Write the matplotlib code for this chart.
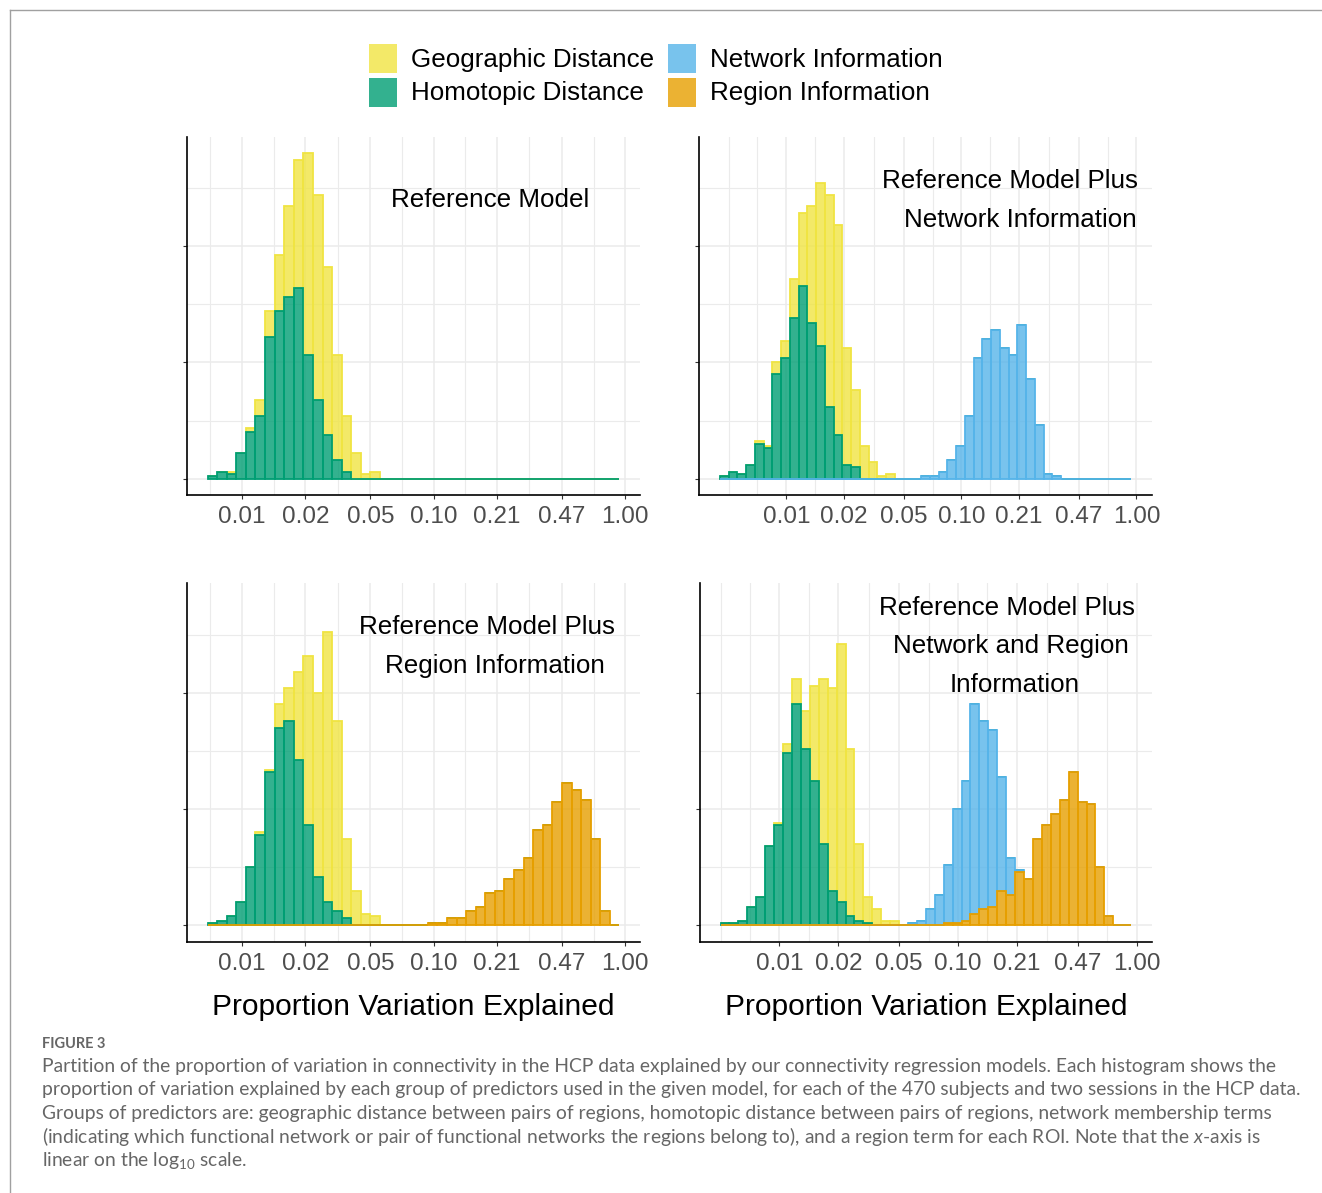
import numpy as np
import matplotlib
matplotlib.use("Agg")
import matplotlib.pyplot as plt
from matplotlib.colors import to_rgba
from matplotlib.patches import Rectangle
from matplotlib.lines import Line2D

plt.rcParams['font.family'] = ['Liberation Sans', 'DejaVu Sans']
plt.rcParams['mathtext.fontset'] = 'custom'
plt.rcParams['mathtext.rm'] = 'Lato'
plt.rcParams['mathtext.it'] = 'Lato:italic'

W, H = 1322, 1193

groups = ["Geographic Distance", "Homotopic Distance", "Network Information", "Region Information"]
fills = ["#F0E442", "#009E73", "#56B4E9", "#E69F00"]

binwidth = 0.05                       # on the log10 scale
tick_pos = [-2, -1.67, -1.33, -1, -0.67, -0.33, 0]
tick_lab = ["%.2f" % 10 ** t for t in tick_pos]

# histogram counts (stacked); each list starts at the given bin index
# panel 1: reference model
ref_start, ref_nbins = -2.18, 43
ref_geo = [0, 0, 1, 0, 2, 7, 11, 24, 39, 55, 87, 88, 72, 45, 24, 11, 2, 3]
ref_hom = [1, 3, 2, 11, 20, 27, 61, 72, 78, 82, 53, 34, 19, 8, 3]

# panel 2: + network information
net_start, net_nbins = -2.38, 47
net_geo = [0, 0, 0, 0, 1, 1, 5, 7, 17, 31, 50, 70, 91, 90, 50, 33, 14, 7, 1, 2]
net_hom = [1, 3, 2, 6, 15, 13, 45, 52, 69, 83, 67, 57, 31, 19, 6, 5]
net_net = [1, 1, 3, 8, 14, 27, 52, 60, 64, 56, 53, 66, 43, 23, 2, 1]
net_net_first = 23

# panel 3: + region information
reg_start, reg_nbins = -2.18, 43
reg_geo = [0, 0, 0, 0, 0, 1, 1, 10, 14, 38, 73, 79, 116, 82, 34, 15, 5, 4]
reg_hom = [1, 2, 4, 10, 25, 39, 66, 85, 88, 71, 43, 21, 10, 6, 3]
reg_reg = [1, 1, 3, 3, 6, 8, 14, 15, 20, 24, 29, 41, 43, 53, 61, 58, 54, 37, 6]
reg_reg_first = 23

# panel 4: + network and region information
all_start, all_nbins = -2.33, 46
all_geo = [0, 0, 0, 0, 0, 0, 1, 4, 11, 16, 41, 71, 87, 111, 72, 33, 11, 7, 2, 2]
all_hom = [1, 1, 2, 8, 12, 34, 43, 74, 95, 76, 62, 35, 15, 10, 4, 2, 1]
all_net = [1, 2, 7, 13, 25, 49, 60, 90, 81, 76, 49, 16, 1]
all_net_first = 21
all_reg = [1, 1, 2, 5, 7, 8, 15, 13, 23, 20, 37, 43, 48, 54, 66, 53, 52, 25, 4]
all_reg_first = 25


def full(vals, first, n):
    out = np.zeros(n)
    out[first:first + len(vals)] = vals
    return out


panels = [
    dict(rect=(187, 136.7, 640, 495), start=ref_start, n=ref_nbins,
         series={0: full(ref_geo, 0, ref_nbins), 1: full(ref_hom, 0, ref_nbins)},
         title=[("Reference Model", 490.5, 206.7)], xlabel=False),
    dict(rect=(699.3, 136.7, 1151.7, 495), start=net_start, n=net_nbins,
         series={0: full(net_geo, 0, net_nbins), 1: full(net_hom, 0, net_nbins),
                 2: full(net_net, net_net_first, net_nbins)},
         title=[("Reference Model Plus", 1010, 188.3), ("Network Information", 1020.7, 226.7)],
         xlabel=False),
    dict(rect=(187, 583.4, 640, 941.7), start=reg_start, n=reg_nbins,
         series={0: full(reg_geo, 0, reg_nbins), 1: full(reg_hom, 0, reg_nbins),
                 3: full(reg_reg, reg_reg_first, reg_nbins)},
         title=[("Reference Model Plus", 486.7, 634), ("Region Information", 494.5, 672.7)],
         xlabel=True),
    dict(rect=(700, 583.4, 1151.7, 941.7), start=all_start, n=all_nbins,
         series={0: full(all_geo, 0, all_nbins), 1: full(all_hom, 0, all_nbins),
                 2: full(all_net, all_net_first, all_nbins), 3: full(all_reg, all_reg_first, all_nbins)},
         title=[("Reference Model Plus", 1007.3, 615), ("Network and Region", 1010.8, 653.3),
                ("Information", 1014.3, 691.7)],
         xlabel=True),
]

fig = plt.figure(figsize=(W / 100, H / 100), dpi=100)

# shared y scale (ggplot-like 5% expansion)
ymax = max((sum(p['series'].values())).max() for p in panels)
ylim = (-0.05 * ymax, 1.05 * ymax)

for p in panels:
    x0, y0, x1, y1 = p['rect']
    ax = fig.add_axes([x0 / W, 1 - y1 / H, (x1 - x0) / W, (y1 - y0) / H])
    left = p['start'] + binwidth * np.arange(p['n'])
    lo, hi = left[0], left[-1] + binwidth
    ex = 0.05 * (hi - lo)
    ax.set_xlim(lo - ex, hi + ex)
    ax.set_ylim(*ylim)

    # stacking: region at the bottom, geographic on top
    bottoms = {}
    b = np.zeros(p['n'])
    for g in [3, 2, 1, 0]:
        if g in p['series']:
            bottoms[g] = b.copy()
            b = b + p['series'][g]
    for g in [0, 1, 2, 3]:
        if g in p['series']:
            ax.bar(left, p['series'][g], width=binwidth, bottom=bottoms[g], align='edge',
                   facecolor=to_rgba(fills[g], 0.8), edgecolor=fills[g], linewidth=1.3, zorder=2)

    # breaks
    ax.set_xticks(tick_pos)
    ax.set_xticklabels(tick_lab)
    ext = [tick_pos[0] - (tick_pos[1] - tick_pos[0])] + tick_pos
    minor = [ext[0]] + [(a + c) / 2 for a, c in zip(ext[:-1], ext[1:])]
    ax.set_xticks([m for m in minor if lo - ex < m < hi + ex], minor=True)
    ax.set_yticks([0, 50, 100])
    ax.set_yticks([25, 75, 125], minor=True)
    ax.tick_params(labelleft=False)
    ax.tick_params(which='major', length=3, width=0.8, color='#333333',
                   labelsize=17.5, labelcolor='#4D4D4D', pad=5)
    ax.tick_params(which='minor', length=0)
    ax.grid(which='major', color='#EBEBEB', linewidth=1.1)
    ax.grid(which='minor', color='#EBEBEB', linewidth=0.8)
    ax.set_axisbelow(True)
    for s in ['top', 'right']:
        ax.spines[s].set_visible(False)
    for s in ['left', 'bottom']:
        ax.spines[s].set_color('black')
        ax.spines[s].set_linewidth(1.2)

    for txt, cx, by in p['title']:
        fig.text(cx / W, 1 - by / H, txt, ha='center', va='baseline', fontsize=18.7)
    if p['xlabel']:
        fig.text((x0 + x1) / 2 / W, 1 - 1015 / H, "Proportion Variation Explained",
                 ha='center', va='baseline', fontsize=21.6)

# legend
leg = [(0, 369, 44, 411, 67), (1, 369, 78, 411, 100),
       (2, 668, 44, 710, 67), (3, 668, 78, 710, 100)]
for g, kx, ky, tx, ty in leg:
    fig.patches.append(Rectangle((kx / W, 1 - (ky + 29) / H), 28 / W, 29 / H,
                                 transform=fig.transFigure, facecolor=to_rgba(fills[g], 0.8),
                                 edgecolor='none'))
    fig.text(tx / W, 1 - ty / H, groups[g], ha='left', va='baseline', fontsize=18.7)

# caption
cap_lines = [
    "Partition of the proportion of variation in connectivity in the HCP data explained by our connectivity regression models. Each histogram shows the",
    "proportion of variation explained by each group of predictors used in the given model, for each of the 470 subjects and two sessions in the HCP data.",
    "Groups of predictors are: geographic distance between pairs of regions, homotopic distance between pairs of regions, network membership terms",
    "(indicating which functional network or pair of functional networks the regions belong to), and a region term for each ROI. Note that the $\\mathit{x}$-axis is",
    "linear on the log$_{10}$ scale.",
]
renderer = fig.canvas.get_renderer()
ft = fig.text(42 / W, 1 - 1048 / H, "FIGURE 3", fontsize=10, family='Lato', weight='bold',
              color='#666666', ha='left', va='baseline')
ft.set_fontsize(10 * 64 / ft.get_window_extent(renderer).width)

probe = fig.text(0, 0, cap_lines[1], fontsize=12, family='Lato', color='#5a5a5a')
cap_fs = 12 * 1257 / probe.get_window_extent(renderer).width
probe.remove()
for i, line in enumerate(cap_lines):
    fig.text(42 / W, 1 - (1072 + 23.5 * i) / H, line, fontsize=cap_fs, family='Lato',
             color='#666666', ha='left', va='baseline')

# frame
fig.lines.append(Line2D([10 / W, 1], [1 - 10 / H, 1 - 10 / H], transform=fig.transFigure,
                        color='#a0a0a0', linewidth=1))
fig.lines.append(Line2D([10 / W, 10 / W], [1 - 10 / H, 0], transform=fig.transFigure,
                        color='#a0a0a0', linewidth=1))

fig.savefig("out.png", dpi=100)
